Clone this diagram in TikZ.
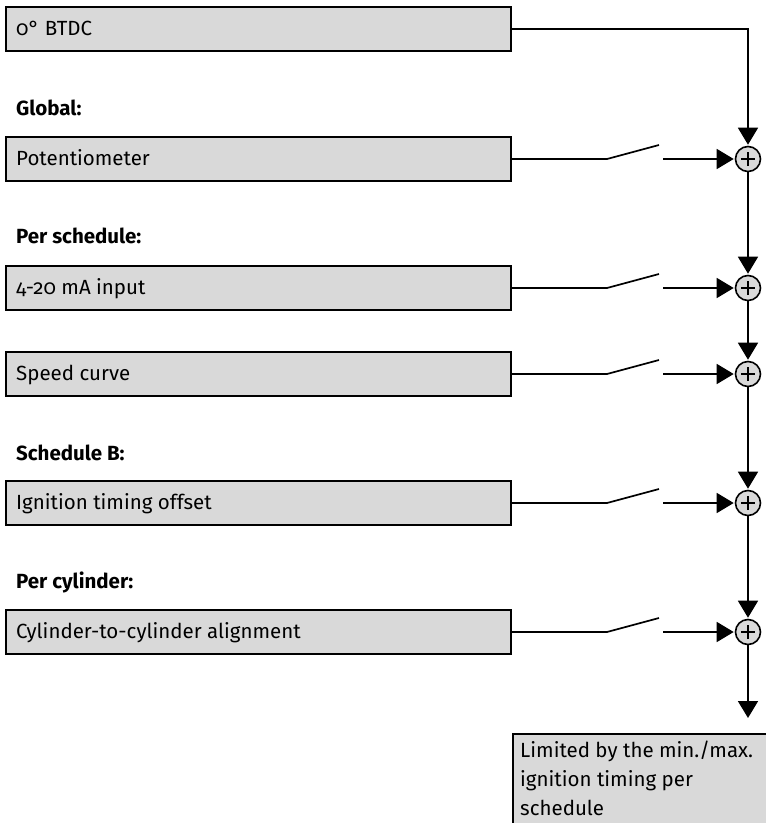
\documentclass[tikz,border=0pt]{standalone}
\usepackage{fontspec}
\setmainfont{Fira Sans}[Numbers=OldStyle]
\usetikzlibrary{arrows.meta}
\definecolor{boxgray}{HTML}{D9D9D9}
\begin{document}
\begin{tikzpicture}[x=1pt,y=-1pt,
  box/.style={draw=black, line width=2pt, fill=boxgray, minimum width=505pt, minimum height=44pt, inner sep=0pt},
  txt/.style={anchor=base west, inner sep=0pt, font=\fontsize{20.5}{29}\selectfont},
  hdr/.style={anchor=base west, inner sep=0pt, font=\fontsize{20.5}{29}\selectfont\bfseries},
  sum/.style={circle, draw=black, line width=1.6pt, fill=boxgray, minimum size=25pt, inner sep=0pt},
  wire/.style={line width=1.7pt},
  arr/.style={wire, -{Triangle[length=17pt,width=20pt]}, shorten >=1pt}
]
\useasboundingbox (0,0) rectangle (766,823);

% input boxes
\node[box] (b1) at (258.5,29) {};
\node[box] (b2) at (258.5,159) {};
\node[box] (b3) at (258.5,288) {};
\node[box] (b4) at (258.5,374) {};
\node[box] (b5) at (258.5,503) {};
\node[box] (b6) at (258.5,632) {};

\node[txt] (t1) at (16,35) {0° BTDC};
\node[txt] (t2) at (16,165.5) {Potentiometer};
\node[txt] (t3) at (16,294.5) {4-20 mA input};
\node[txt] (t4) at (16,380.5) {Speed curve};
\node[txt] (t5) at (16,509.5) {Ignition timing offset};
\node[txt] (t6) at (16,638.5) {Cylinder-to-cylinder alignment};

% headings
\node[hdr] (h1) at (16,115) {Global:};
\node[hdr] (h2) at (16,243) {Per schedule:};
\node[hdr] (h3) at (16,460) {Schedule B:};
\node[hdr] (h4) at (16,588) {Per cylinder:};

% summing junctions
\foreach \n/\y in {1/159,2/288,3/374,4/503,5/632}{
  \node[sum] (s\n) at (748,\y) {};
  \draw[line width=1.3pt] ([xshift=-7pt]s\n.center) -- ([xshift=7pt]s\n.center);
  \draw[line width=1.3pt] ([yshift=-7pt]s\n.center) -- ([yshift=7pt]s\n.center);
}

% top feed
\draw[arr] (b1.east) -| (s1.north);

% switches
\foreach \b/\s in {2/1,3/2,4/3,5/4,6/5}{
  \coordinate (k\b) at (607,0 |- b\b.east);
  \coordinate (o\b) at ([yshift=14pt]659,0 |- b\b.east);
  \coordinate (r\b) at (663,0 |- b\b.east);
  \draw[wire] (b\b.east) -- (k\b) -- (o\b);
  \draw[arr] (r\b) -- (s\s.west);
}

% chain
\draw[arr] (s1.south) -- (s2.north);
\draw[arr] (s2.south) -- (s3.north);
\draw[arr] (s3.south) -- (s4.north);
\draw[arr] (s4.south) -- (s5.north);
\coordinate (out) at (748,719);
\draw[arr] (s5.south) -- (out);

% result box
\node[box, anchor=north west, minimum width=280pt, minimum height=110pt] (res) at (512,733) {};
\node[txt] (rt) at (520,757) {\begin{tabular}[t]{@{}l@{}}Limited by the min./max.\\ignition timing per\\schedule\end{tabular}};
\end{tikzpicture}
\end{document}
